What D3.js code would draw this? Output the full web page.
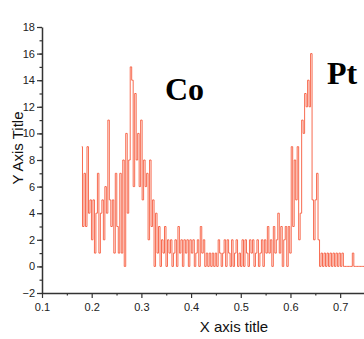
<!DOCTYPE html>
<html>
<head>
<meta charset="utf-8">
<script src="https://cdn.jsdelivr.net/npm/d3@7"></script>
<style>
  body { margin: 0; background: #fff; }
  svg { display: block; }
</style>
</head>
<body>
<script>
var width = 364, height = 339;

// sampling grid of the scan (start, step)
var xStart = 0.18, xStep = 0.003;

// counts, one per sample
var counts = [
  9, 3, 7, 3, 9, 4, 5, 2, 5, 1,
  4, 7, 1, 4, 5, 2, 6, 4, 11, 5,
  3, 5, 1, 7, 3, 1, 7, 1, 8, 0,
  10, 4, 8, 15, 14, 6, 13, 8, 10, 6,
  11, 5, 8, 6, 7, 2, 8, 3, 5, 0,
  4, 1, 3, 0, 2, 1, 3, 0, 2, 1,
  2, 0, 1, 2, 0, 3, 1, 2, 0, 2,
  1, 2, 0, 2, 1, 2, 0, 1, 2, 0,
  3, 1, 2, 0, 1, 0, 1, 0, 1, 0,
  1, 0, 2, 1, 0, 1, 2, 0, 2, 1,
  0, 2, 0, 1, 2, 0, 1, 0, 2, 0,
  2, 1, 0, 2, 1, 2, 0, 1, 2, 0,
  1, 2, 0, 2, 1, 3, 1, 2, 0, 3,
  1, 2, 4, 1, 3, 0, 2, 3, 0, 3,
  1, 9, 3, 8, 5, 9, 2, 4, 11, 10,
  13, 12, 14, 12, 16, 5, 2, 5, 7, 2,
  0, 1, 0, 1, 0, 1, 0, 1, 0, 1,
  0, 1, 0, 1, 0, 1, 0, 0, 0, 0,
  0, 0, 1, 0, 0, 0, 0, 0, 0, 0,
  0
];

var xTicks = [0.1, 0.2, 0.3, 0.4, 0.5, 0.6, 0.7];
var yTicks = [-2, 0, 2, 4, 6, 8, 10, 12, 14, 16, 18];
var peakLabels = ["Co", "Pt"];

var svg = d3.select("body").append("svg")
  .attr("width", width)
  .attr("height", height);

var x = d3.scaleLinear().domain([0.1, 0.75]).range([42, 365]);
var y = d3.scaleLinear().domain([-2, 18]).range([293, 27]);

var data = counts.map(function(c, i) {
  return { x: xStart + i * xStep, y: c };
});

// the trace, drawn as steps like the instrument output
svg.append("path")
  .datum(data)
  .attr("fill", "none")
  .attr("stroke", "#f65a3c")
  .attr("stroke-width", 0.9)
  .attr("d", d3.line()
    .curve(d3.curveStep)
    .x(function(d) { return x(d.x); })
    .y(function(d) { return y(d.y); }));

// minor ticks
svg.append("g")
  .attr("transform", "translate(42,0)")
  .call(d3.axisLeft(y).tickValues(d3.range(-2, 19, 1)).tickSize(2.5).tickFormat(""))
  .call(function(g) { g.select(".domain").remove(); });
svg.append("g")
  .attr("transform", "translate(0,293)")
  .call(d3.axisBottom(x).tickValues(d3.range(0.15, 0.76, 0.1)).tickSize(2.5).tickFormat(""))
  .call(function(g) { g.select(".domain").remove(); });

// main axes
svg.append("g")
  .attr("transform", "translate(42,0)")
  .call(d3.axisLeft(y).tickValues(yTicks).tickSize(5).tickSizeOuter(0).tickPadding(2));
svg.append("g")
  .attr("transform", "translate(0,293)")
  .call(d3.axisBottom(x).tickValues(xTicks).tickSize(5).tickSizeOuter(0).tickPadding(5)
    .tickFormat(d3.format(".1f")));

svg.selectAll(".tick line").attr("stroke", "#333").attr("stroke-width", 1.2);
svg.selectAll(".domain").attr("stroke", "#333").attr("stroke-width", 1.5);
svg.selectAll(".tick text")
  .attr("fill", "#222")
  .style("font-family", "Liberation Sans, Arial, sans-serif")
  .style("font-size", "11px");

// axis titles
svg.append("text")
  .attr("x", 234).attr("y", 332)
  .attr("text-anchor", "middle")
  .style("font-family", "Liberation Sans, Arial, sans-serif")
  .style("font-size", "15px")
  .attr("fill", "#111")
  .text("X axis title");

svg.append("text")
  .attr("transform", "translate(23,148) rotate(-90)")
  .attr("text-anchor", "middle")
  .style("font-family", "Liberation Sans, Arial, sans-serif")
  .style("font-size", "15px")
  .attr("fill", "#111")
  .text("Y Axis Title");

// peak labels
svg.selectAll(".peak")
  .data(peakLabels)
  .enter().append("text")
  .attr("class", "peak")
  .attr("x", function(d, i) { return i === 0 ? 165 : 327; })
  .attr("y", function(d, i) { return i === 0 ? 100 : 84; })
  .style("font-family", "Liberation Serif, Times New Roman, serif")
  .style("font-weight", "bold")
  .style("font-size", "32px")
  .attr("fill", "#000")
  .text(function(d) { return d; });
</script>
</body>
</html>
